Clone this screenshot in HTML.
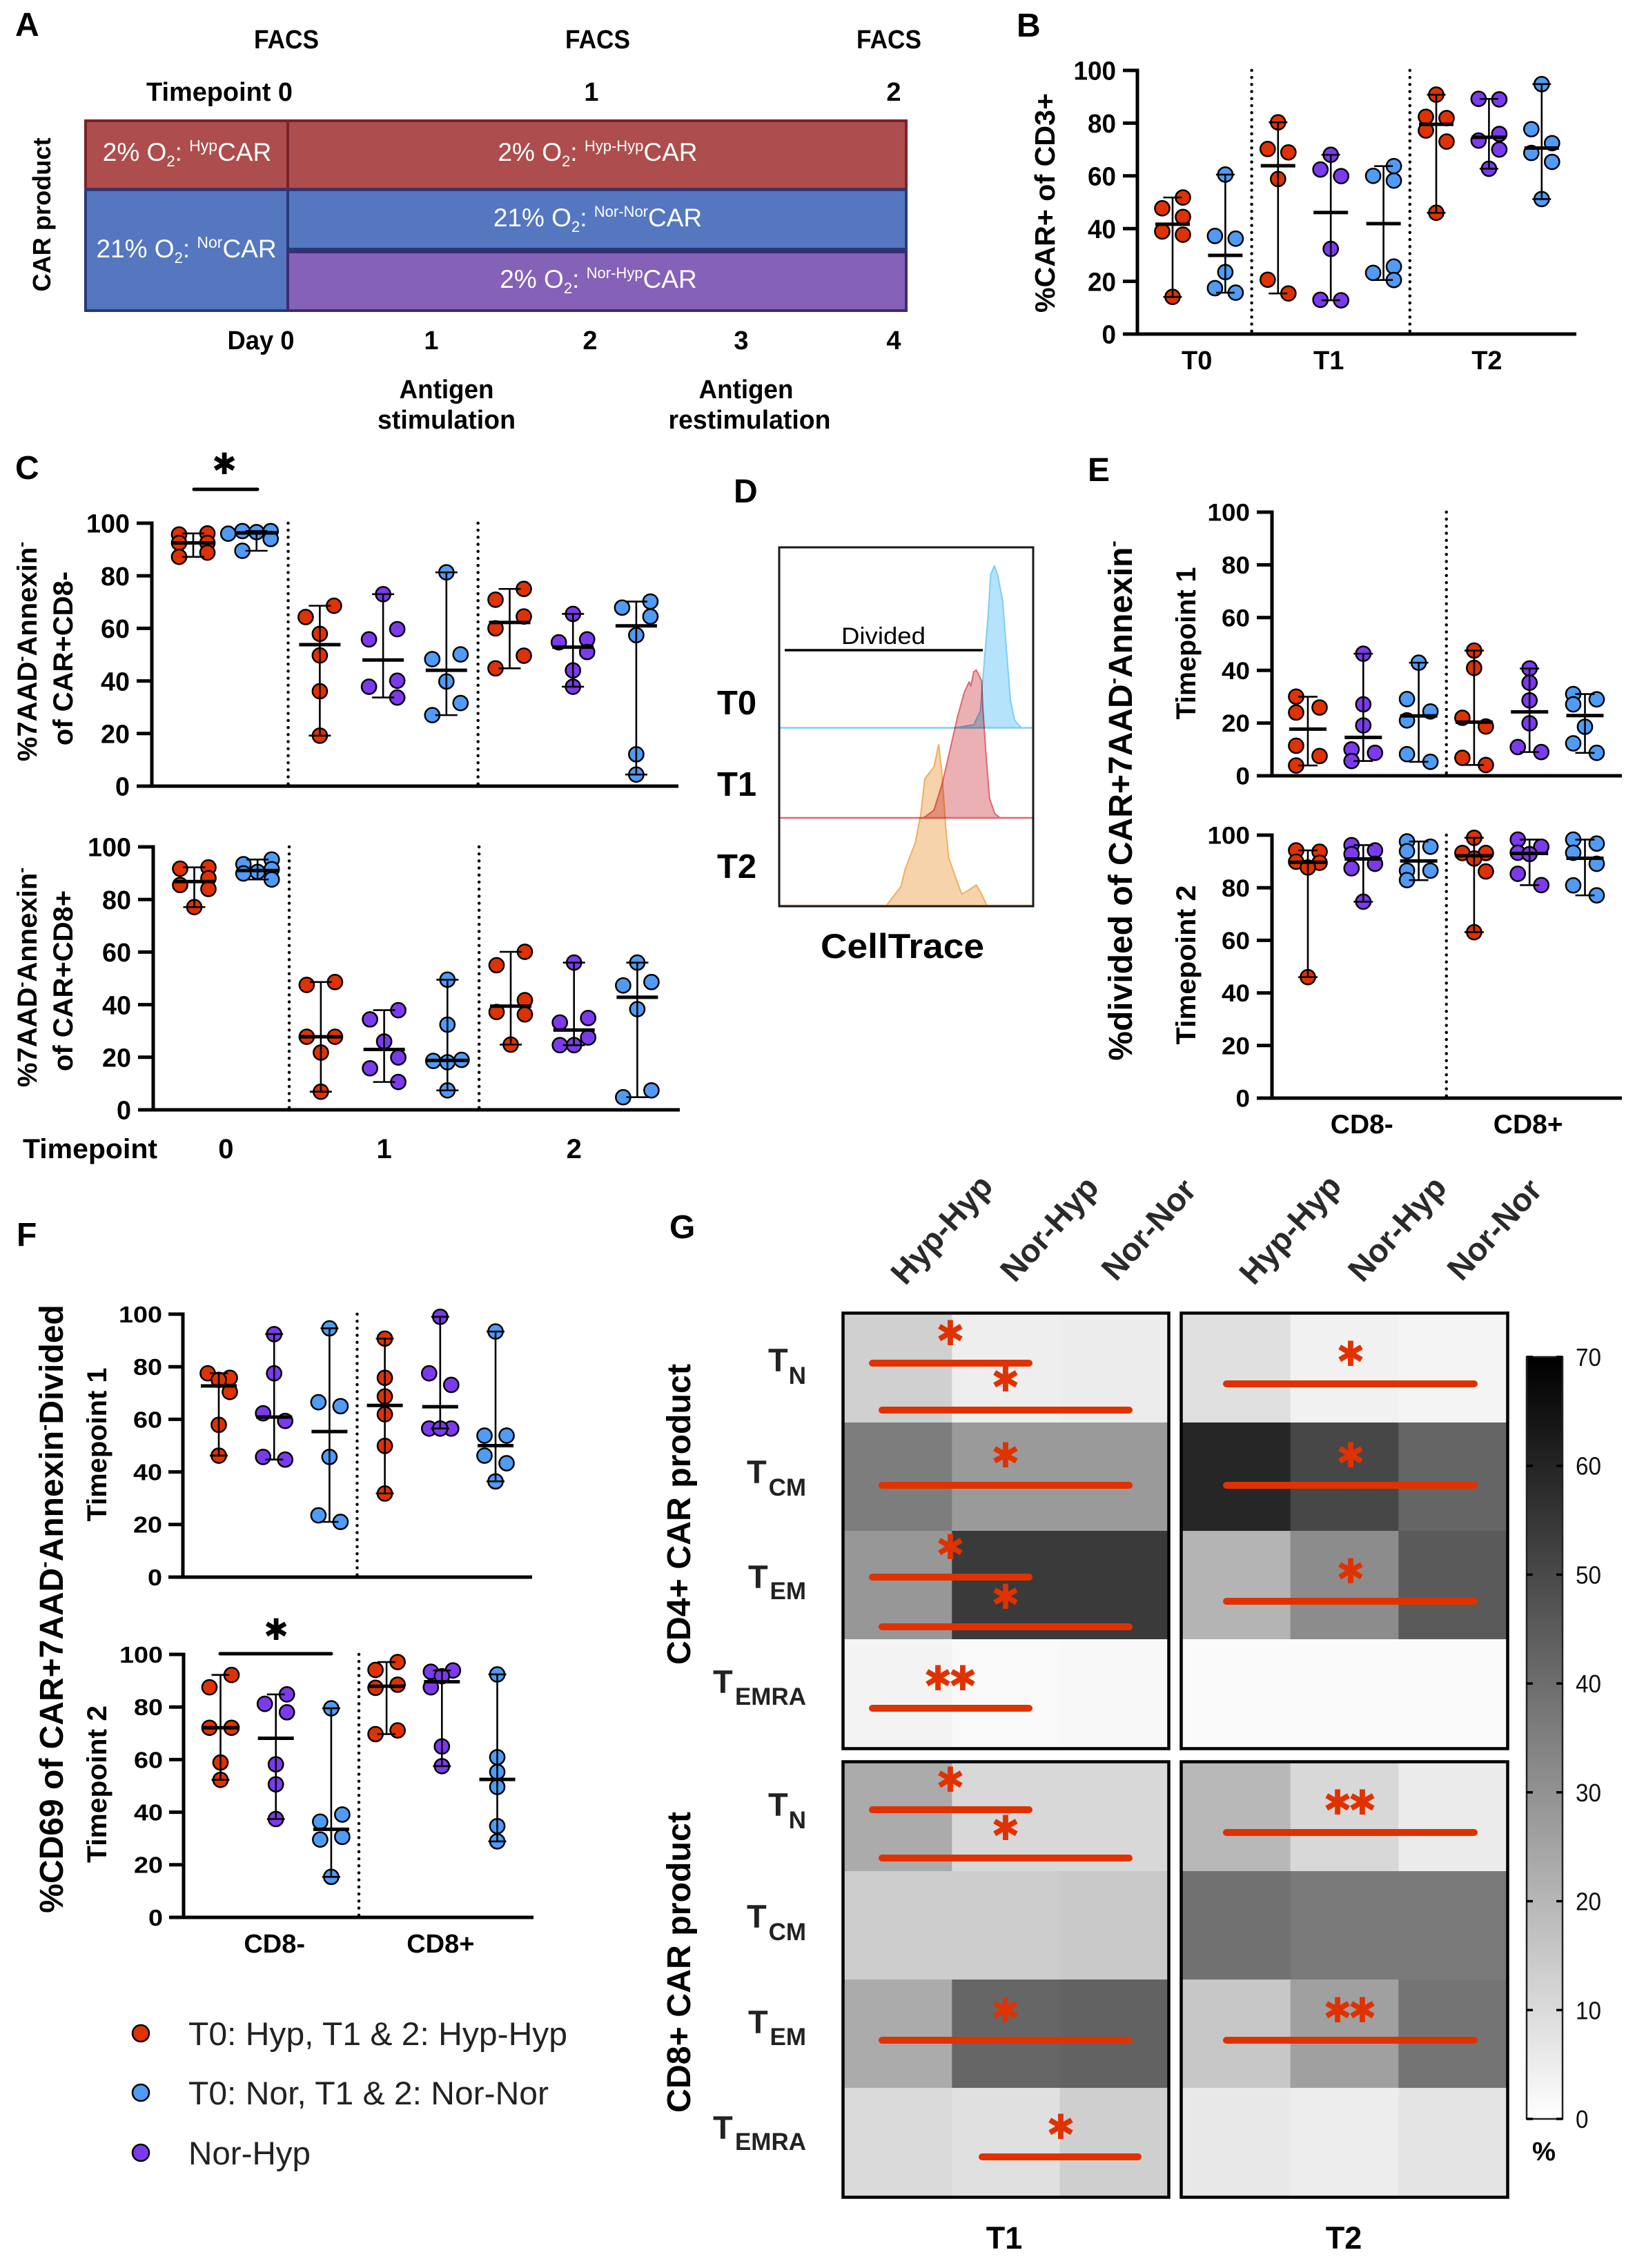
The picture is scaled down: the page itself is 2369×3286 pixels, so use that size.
<!DOCTYPE html>
<html lang="en">
<head>
<meta charset="utf-8">
<title>CAR T cell hypoxia figure</title>
<style>
html,body{margin:0;padding:0;background:#fff;}
svg{display:block;}
text{font-family:"Liberation Sans",sans-serif;fill:#000;}
.b{font-weight:700;}
.m{text-anchor:middle;}
.letter{font-weight:700;font-size:48px;}
.a{font-weight:700;font-size:38px;text-anchor:middle;}
.inbar{font-size:37px;fill:#fff;text-anchor:middle;}
.inbar tspan{fill:#fff;}
.title{font-weight:700;text-anchor:middle;}
.star{font-family:"DejaVu Sans",sans-serif;font-size:50px;fill:#e03200;text-anchor:middle;dominant-baseline:central;}
.stars{letter-spacing:-6px;}
.kstar{font-family:"DejaVu Sans",sans-serif;font-size:43px;fill:#000;text-anchor:middle;dominant-baseline:central;}
.rowT{font-weight:700;font-size:47px;fill:#222;}
.rowS{font-weight:700;font-size:35px;fill:#222;text-anchor:end;}
.col{font-weight:700;font-size:47px;fill:#2a2a2a;text-anchor:middle;dominant-baseline:central;}
.leg{font-size:47px;fill:#222;}
.cbl{font-size:36px;fill:#111;}
</style>
</head>
<body>
<svg id="figure" xmlns="http://www.w3.org/2000/svg" width="2369" height="3286" viewBox="0 0 2369 3286">
<rect x="0" y="0" width="2369" height="3286" fill="#fff"/>

<!-- Panel letters -->
<text class="letter" x="22" y="52">A</text>
<text class="letter" x="1473" y="53">B</text>
<text class="letter" x="22" y="694">C</text>
<text class="letter" x="1063" y="728">D</text>
<text class="letter" x="1576" y="697">E</text>
<text class="letter" x="24" y="1805">F</text>
<text class="letter" x="970" y="1794">G</text>

<!-- Panel A -->
<g>
<text class="a" x="415" y="70" textLength="94" lengthAdjust="spacingAndGlyphs">FACS</text>
<text class="a" x="866" y="70" textLength="94" lengthAdjust="spacingAndGlyphs">FACS</text>
<text class="a" x="1288" y="70" textLength="94" lengthAdjust="spacingAndGlyphs">FACS</text>
<text class="a" x="318" y="146" textLength="212" lengthAdjust="spacingAndGlyphs">Timepoint 0</text>
<text class="a" x="857" y="146">1</text>
<text class="a" x="1295" y="146">2</text>
<rect x="124" y="175" width="293" height="99" fill="#ae4d4d" stroke="#7b2228" stroke-width="4"/>
<rect x="417" y="175" width="896" height="99" fill="#ae4d4d" stroke="#7b2228" stroke-width="4"/>
<rect x="124" y="275" width="293" height="175" fill="#5577bf" stroke="#27397c" stroke-width="4"/>
<rect x="417" y="275" width="896" height="86" fill="#5577bf" stroke="#27397c" stroke-width="4"/>
<rect x="417" y="365" width="896" height="85" fill="#8561b8" stroke="#3c2b70" stroke-width="4"/>
<text class="inbar" x="271" y="233">2% O<tspan font-size="22" dy="8">2</tspan><tspan dy="-8">: </tspan><tspan font-size="23" dy="-14">Hyp</tspan><tspan dy="14">CAR</tspan></text>
<text class="inbar" x="866" y="233">2% O<tspan font-size="22" dy="8">2</tspan><tspan dy="-8">: </tspan><tspan font-size="22" dy="-14">Hyp-Hyp</tspan><tspan dy="14">CAR</tspan></text>
<text class="inbar" x="866" y="328">21% O<tspan font-size="22" dy="8">2</tspan><tspan dy="-8">: </tspan><tspan font-size="22" dy="-14">Nor-Nor</tspan><tspan dy="14">CAR</tspan></text>
<text class="inbar" x="867" y="417">2% O<tspan font-size="22" dy="8">2</tspan><tspan dy="-8">: </tspan><tspan font-size="22" dy="-14">Nor-Hyp</tspan><tspan dy="14">CAR</tspan></text>
<text class="inbar" x="270" y="373">21% O<tspan font-size="22" dy="8">2</tspan><tspan dy="-8">: </tspan><tspan font-size="23" dy="-14">Nor</tspan><tspan dy="14">CAR</tspan></text>
<text class="title" font-size="36" textLength="223" lengthAdjust="spacingAndGlyphs" transform="translate(73,311) rotate(-90)">CAR product</text>
<text class="a" x="378" y="506" textLength="97" lengthAdjust="spacingAndGlyphs">Day 0</text>
<text class="a" x="625" y="506">1</text>
<text class="a" x="855" y="506">2</text>
<text class="a" x="1074" y="506">3</text>
<text class="a" x="1295" y="506">4</text>
<text class="a" x="647" y="577" textLength="137" lengthAdjust="spacingAndGlyphs">Antigen</text>
<text class="a" x="647" y="621" textLength="200" lengthAdjust="spacingAndGlyphs">stimulation</text>
<text class="a" x="1081" y="577" textLength="137" lengthAdjust="spacingAndGlyphs">Antigen</text>
<text class="a" x="1086" y="621" textLength="235" lengthAdjust="spacingAndGlyphs">restimulation</text>
</g>

<!-- Axis titles -->
<text class="title" font-size="41" textLength="318" lengthAdjust="spacingAndGlyphs" transform="translate(1528,294) rotate(-90)">%CAR+ of CD3+</text>

<text class="title" font-size="40" transform="translate(53,944) rotate(-90)">%7AAD<tspan font-size="24" dy="-14">-</tspan><tspan dy="14">Annexin</tspan><tspan font-size="24" dy="-14">-</tspan></text>
<text class="title" font-size="40" transform="translate(105,954) rotate(-90)">of CAR+CD8-</text>
<text class="title" font-size="40" transform="translate(53,1416) rotate(-90)">%7AAD<tspan font-size="24" dy="-14">-</tspan><tspan dy="14">Annexin</tspan><tspan font-size="24" dy="-14">-</tspan></text>
<text class="title" font-size="40" transform="translate(105,1421) rotate(-90)">of CAR+CD8+</text>
<text class="b" x="33" y="1678" font-size="40" textLength="195" lengthAdjust="spacingAndGlyphs">Timepoint</text>
<text class="kstar" x="325" y="673">✱</text>
<line x1="281" y1="709" x2="373" y2="709" stroke="#000" stroke-width="5" stroke-linecap="round"/>

<text class="title" font-size="48" transform="translate(1640,1160) rotate(-90)">%divided of CAR+7AAD<tspan font-size="28" dy="-18">-</tspan><tspan dy="18">Annexin</tspan><tspan font-size="28" dy="-18">-</tspan></text>
<text class="title" font-size="40" textLength="221" lengthAdjust="spacingAndGlyphs" transform="translate(1732,932) rotate(-90)">Timepoint 1</text>
<text class="title" font-size="40" textLength="231" lengthAdjust="spacingAndGlyphs" transform="translate(1732,1398) rotate(-90)">Timepoint 2</text>

<text class="title" font-size="48" transform="translate(91,2331) rotate(-90)">%CD69 of CAR+7AAD<tspan font-size="28" dy="-18">-</tspan><tspan dy="18">Annexin</tspan><tspan font-size="28" dy="-18">-</tspan><tspan dy="18">Divided</tspan></text>
<text class="title" font-size="40" textLength="223" lengthAdjust="spacingAndGlyphs" transform="translate(154,2093) rotate(-90)">Timepoint 1</text>
<text class="title" font-size="40" textLength="228" lengthAdjust="spacingAndGlyphs" transform="translate(154,2585) rotate(-90)">Timepoint 2</text>
<text class="kstar" x="400" y="2362">✱</text>
<line x1="319" y1="2396" x2="480" y2="2396" stroke="#000" stroke-width="5" stroke-linecap="round"/>

<!-- Legend -->
<g>
<circle cx="204" cy="2946" r="12" fill="#e03200" stroke="#000" stroke-width="2.5"/>
<text class="leg" x="273" y="2963" textLength="549" lengthAdjust="spacingAndGlyphs">T0: Hyp, T1 &amp; 2: Hyp-Hyp</text>
<circle cx="204" cy="3032" r="12" fill="#4f9bf5" stroke="#000" stroke-width="2.5"/>
<text class="leg" x="273" y="3049" textLength="522" lengthAdjust="spacingAndGlyphs">T0: Nor, T1 &amp; 2: Nor-Nor</text>
<circle cx="204" cy="3119" r="12" fill="#7c3aed" stroke="#000" stroke-width="2.5"/>
<text class="leg" x="273" y="3136" textLength="177" lengthAdjust="spacingAndGlyphs">Nor-Hyp</text>
</g>

<!-- Panel D static labels -->
<text class="b" x="1039" y="1035" font-size="49">T0</text>
<text class="b" x="1039" y="1153" font-size="49">T1</text>
<text class="b" x="1039" y="1272" font-size="49">T2</text>
<text class="b" x="1189" y="1388" font-size="50" textLength="237" lengthAdjust="spacingAndGlyphs">CellTrace</text>

<!-- Panel G static labels -->
<text class="title" font-size="48" textLength="436" lengthAdjust="spacingAndGlyphs" transform="translate(1000,2194) rotate(-90)">CD4+ CAR product</text>
<text class="title" font-size="48" textLength="436" lengthAdjust="spacingAndGlyphs" transform="translate(1000,2843) rotate(-90)">CD8+ CAR product</text>
<text class="col" transform="translate(1364,1781) rotate(-48)">Hyp-Hyp</text>
<text class="col" transform="translate(1520,1780) rotate(-48)">Nor-Hyp</text>
<text class="col" transform="translate(1664,1781) rotate(-48)">Nor-Nor</text>
<text class="col" transform="translate(1869,1781) rotate(-48)">Hyp-Hyp</text>
<text class="col" transform="translate(2024,1780) rotate(-48)">Nor-Hyp</text>
<text class="col" transform="translate(2165,1781) rotate(-48)">Nor-Nor</text>
<text class="rowT" x="1113" y="1987">T</text><text class="rowS" x="1168" y="2005">N</text>
<text class="rowT" x="1082" y="2149">T</text><text class="rowS" x="1168" y="2167">CM</text>
<text class="rowT" x="1084" y="2301">T</text><text class="rowS" x="1168" y="2317">EM</text>
<text class="rowT" x="1033" y="2453">T</text><text class="rowS" x="1168" y="2470">EMRA</text>
<text class="rowT" x="1113" y="2631">T</text><text class="rowS" x="1168" y="2649">N</text>
<text class="rowT" x="1082" y="2793">T</text><text class="rowS" x="1168" y="2811">CM</text>
<text class="rowT" x="1084" y="2946">T</text><text class="rowS" x="1168" y="2963">EM</text>
<text class="rowT" x="1033" y="3099">T</text><text class="rowS" x="1168" y="3115">EMRA</text>
<text class="b m" x="1455" y="3258" font-size="45" fill="#222">T1</text>
<text class="b m" x="1947" y="3258" font-size="45" fill="#222">T2</text>

<g id="heat-layer"></g>
<g id="annot-layer">
<g stroke="#e03200" stroke-width="10" stroke-linecap="round">
<line x1="1264" y1="1975" x2="1491" y2="1975"/>
<line x1="1278" y1="2043" x2="1636" y2="2043"/>
<line x1="1278" y1="2152" x2="1636" y2="2152"/>
<line x1="1264" y1="2285" x2="1491" y2="2285"/>
<line x1="1278" y1="2357" x2="1636" y2="2357"/>
<line x1="1264" y1="2475" x2="1491" y2="2475"/>
<line x1="1777" y1="2005" x2="2136" y2="2005"/>
<line x1="1777" y1="2152" x2="2136" y2="2152"/>
<line x1="1777" y1="2320" x2="2136" y2="2320"/>
<line x1="1264" y1="2622" x2="1491" y2="2622"/>
<line x1="1278" y1="2692" x2="1636" y2="2692"/>
<line x1="1278" y1="2956" x2="1636" y2="2956"/>
<line x1="1423" y1="3125" x2="1649" y2="3125"/>
<line x1="1777" y1="2655" x2="2136" y2="2655"/>
<line x1="1777" y1="2956" x2="2136" y2="2956"/>
</g>
<text class="star" x="1377" y="1932">✱</text>
<text class="star" x="1457" y="1999">✱</text>
<text class="star" x="1457" y="2109">✱</text>
<text class="star" x="1377" y="2242">✱</text>
<text class="star" x="1457" y="2314">✱</text>
<text class="star stars" x="1374" y="2432">✱✱</text>
<text class="star" x="1957" y="1962">✱</text>
<text class="star" x="1957" y="2109">✱</text>
<text class="star" x="1957" y="2277">✱</text>
<text class="star" x="1377" y="2579">✱</text>
<text class="star" x="1457" y="2649">✱</text>
<text class="star" x="1457" y="2913">✱</text>
<text class="star" x="1537" y="3082">✱</text>
<text class="star stars" x="1953" y="2612">✱✱</text>
<text class="star stars" x="1953" y="2913">✱✱</text>
</g>
</svg>

<script>
// ---------- shared axis data ----------
const yTicks = [0, 20, 40, 60, 80, 100];
const seriesColors = { hyp: '#e03200', nor: '#4f9bf5', mix: '#7c3aed' };

// ---------- Panel B ----------
const panelBGroups = ['hyp', 'nor', 'hyp', 'mix', 'nor', 'hyp', 'mix', 'nor'];
const panelBCategories = ['T0', 'T1', 'T2'];
const panelBCategorySpans = [[0, 1], [2, 4], [5, 7]];
const panelBValues = [
  [51.8, 47.7, 44.4, 38.9, 37.7, 14.1],
  [60.5, 37.2, 36.2, 23.5, 17.4, 15.7],
  [80.3, 70.2, 68.9, 58.8, 20.6, 15.4],
  [68, 62.4, 59.9, 32.3, 13, 12.8],
  [63.7, 60, 58.2, 25.6, 23.2, 20.5],
  [90.8, 82.4, 81.9, 77.2, 73, 46],
  [89.2, 89, 75.9, 73.4, 70, 62.7],
  [94.8, 77.7, 72.4, 68.7, 65.3, 51.2]
];

// ---------- Panel C ----------
const panelCGroups = ['hyp', 'nor', 'hyp', 'mix', 'nor', 'hyp', 'mix', 'nor'];
const panelCCategories = ['0', '1', '2'];
const panelCCategorySpans = [[0, 1], [2, 4], [5, 7]];
const panelCTopValues = [
  [96.1, 95.7, 92.5, 92.5, 88.8, 87.2],
  [97, 97, 96.6, 96, 94, 89.5],
  [68.6, 64.3, 57.9, 49.7, 36.1, 19.2],
  [73, 59.7, 55.8, 40.1, 37.8, 33.7],
  [81.3, 50.1, 48.3, 39.8, 31.6, 27],
  [75, 70.9, 64.5, 60, 49.6, 44.8],
  [65.5, 55.8, 54.7, 51, 44, 37.8],
  [70.2, 67.9, 64.5, 57.4, 12.1, 4.4]
];
const panelCBottomValues = [
  [92.2, 91.7, 88.1, 85.5, 84, 77.1],
  [95.2, 93.4, 91.5, 90.5, 89.9, 87.6],
  [48.6, 47.5, 27.8, 27.8, 21.8, 6.9],
  [37.9, 34.4, 26, 19.9, 15.8, 10.6],
  [49.5, 32.4, 19, 18.6, 18.1, 7.4],
  [60.1, 55, 41.7, 37.2, 36.3, 24.8],
  [56, 34.9, 33.2, 27.5, 24.6, 24.6],
  [56, 48.6, 47.3, 38.3, 7.4, 4.8]
];

// ---------- Panel E ----------
const panelEGroups = ['hyp', 'mix', 'nor', 'hyp', 'mix', 'nor'];
const panelECategories = ['CD8-', 'CD8+'];
const panelECategorySpans = [[0, 2], [3, 5]];
const panelETopValues = [
  [30, 25.9, 24, 11.4, 7.5, 3.9],
  [46.3, 27.1, 19.1, 10, 8.7, 5.6],
  [42.9, 29.1, 24.4, 21, 8.2, 5.3],
  [47.5, 40.9, 22, 18.7, 6.8, 4.1],
  [40.7, 35.3, 28.6, 19.9, 10.9, 9],
  [31, 29, 27.1, 18.6, 12.3, 8.7]
];
const panelEBottomValues = [
  [94.2, 93.7, 89.9, 89.5, 87.7, 46],
  [96.2, 94.2, 92.8, 89.1, 87.4, 74.7],
  [97.6, 95.6, 93.9, 86.5, 86.5, 82.9],
  [99, 93.2, 93.2, 91.1, 86.2, 63.1],
  [98.3, 95.6, 93.3, 92.8, 85.3, 81],
  [98.3, 96.8, 93.3, 89.1, 80.9, 77.1]
];

// ---------- Panel F ----------
const panelFGroups = ['hyp', 'mix', 'nor', 'hyp', 'mix', 'nor'];
const panelFCategories = ['CD8-', 'CD8+'];
const panelFCategorySpans = [[0, 2], [3, 5]];
const panelFTopValues = [
  [77.5, 75.8, 75, 70.4, 57.9, 46.2],
  [92.4, 77.5, 62.3, 59.4, 45.7, 44.7],
  [94.6, 66.5, 65, 45.7, 23.5, 21],
  [90.7, 75.8, 68.7, 61.9, 49.9, 31.8],
  [99, 77.5, 73.1, 56.5, 56.5, 56.5],
  [93.4, 53.8, 53.8, 46.2, 43.3, 36.4]
];
const panelFBottomValues = [
  [92.2, 87.5, 72.1, 72.1, 58.9, 52.3],
  [84.8, 81.2, 78, 58.2, 50.6, 37.4],
  [79.5, 39.1, 36.4, 30.6, 29.6, 15.4],
  [97.1, 94.1, 88.5, 87.3, 71.1, 69.7],
  [93.9, 93.4, 91.7, 87.5, 65, 57.5],
  [92.4, 60.9, 55.3, 49.6, 34.7, 28.9]
];

// ---------- Panel D histograms (channel on 0-100, normalised count on 0-100) ----------
const histT0Channel = [69.3, 76.6, 79.2, 80.2, 82.3, 83.3, 84.7, 86.1, 88, 89.6, 91.1, 92.7, 95.3];
const histT0Count = [0, 1.9, 10.4, 30.1, 70.3, 94.7, 100, 94, 78.4, 45.8, 16.7, 4.7, 0];
const histT1Channel = [56.8, 60.9, 64.1, 67.2, 70.3, 72.9, 74.8, 75.5, 76.6, 77.6, 79.7, 80.2, 81.3, 82.8, 84.9, 87];
const histT1Count = [0, 4.7, 20.6, 41.7, 62.9, 77.7, 84, 81.4, 90.3, 91.3, 84.7, 67.8, 41.9, 12.1, 2.5, 0];
const histT2Channel = [42.2, 47.9, 49.5, 53.6, 55.7, 57.3, 60.9, 62.8, 64.1, 65.6, 66.7, 69.3, 71.9, 74.5, 77.6, 79.2, 81.8];
const histT2Count = [0, 11.7, 22, 38.9, 55.9, 78.2, 85.6, 99.4, 81.4, 47.7, 29.7, 18, 7, 9.5, 12.7, 8.5, 0];

// ---------- Panel G heatmaps (% by subset row, condition column) ----------
const heatRows = ['TN', 'TCM', 'TEM', 'TEMRA'];
const heatCols = ['Hyp-Hyp', 'Nor-Hyp', 'Nor-Nor'];
const heatCd4T1 = [[12.9, 4.7, 5.2], [35.7, 27.7, 27.7], [28.5, 54.1, 54.1], [3.3, 1.6, 1.9]];
const heatCd4T2 = [[8.5, 3.8, 3], [59.6, 50.5, 42.3], [20.6, 31.6, 45.3], [1.4, 1.4, 1.4]];
const heatCd8T1 = [[23.1, 10.7, 10.7], [13.7, 13.7, 14.8], [23.1, 42, 43.1], [10.2, 8.5, 13.2]];
const heatCd8T2 = [[19.5, 10.7, 5.5], [39, 36.5, 36.5], [15.4, 26.1, 38.2], [6.3, 4.9, 7.4]];
const colorbarTicks = [0, 10, 20, 30, 40, 50, 60, 70];

// ---------- helpers ----------
const SVGNS = 'http://www.w3.org/2000/svg';
const root = document.getElementById('figure');

function add(parent, tag, attrs) {
  const el = document.createElementNS(SVGNS, tag);
  for (const k in attrs) el.setAttribute(k, attrs[k]);
  parent.appendChild(el);
  return el;
}

function median(vals) {
  const s = vals.slice().sort((a, b) => a - b);
  const n = s.length;
  return n % 2 ? s[(n - 1) / 2] : (s[n / 2 - 1] + s[n / 2]) / 2;
}

// Places points of one group left/right of its centre the way a column scatter swarm does.
function swarmOffsets(vals, yFn, slot, dia, evenSide, oddSide) {
  const order = vals.map((v, i) => i).sort((a, b) => vals[b] - vals[a]);
  const clusters = [];
  order.forEach((idx, k) => {
    if (k > 0 && Math.abs(yFn(vals[idx]) - yFn(vals[order[k - 1]])) < dia * 0.9) {
      clusters[clusters.length - 1].push(idx);
    } else {
      clusters.push([idx]);
    }
  });
  const placed = [];
  const offsets = vals.map(() => 0);
  clusters.forEach(cluster => {
    const n = cluster.length;
    cluster.forEach((idx, i) => {
      const first = n % 2 ? oddSide : evenSide;
      const side = i % 2 ? -first : first;
      const options = n === 1 ? [0] : [side, -side, 0, 2 * side, -2 * side, 3 * side, -3 * side];
      const py = yFn(vals[idx]);
      let chosen = options[0];
      for (const s of options) {
        const px = s * slot;
        const hit = placed.some(p => Math.hypot(p.x - px, p.y - py) < dia * 0.5);
        if (!hit) { chosen = s; break; }
      }
      offsets[idx] = chosen * slot;
      placed.push({ x: chosen * slot, y: py });
    });
  });
  return offsets;
}

function drawScatter(cfg) {
  const g = add(root, 'g', {});
  
  
  const yScale = v => cfg.y0 + (cfg.y100 - cfg.y0) * v / 100;
  const xScale = i => cfg.x0 + i * cfg.step;

  // group separators
  cfg.separators.forEach(afterGroup => {
    const sx = (xScale(afterGroup) + xScale(afterGroup + 1)) / 2;
    const sep = add(g, 'line', { x1: sx, x2: sx, y1: cfg.y100, y2: cfg.y0, stroke: '#000', 'stroke-width': 4.5, 'stroke-linecap': 'round', 'stroke-dasharray': '0.01 10.2' });
    
    
  });

  // dots
  cfg.values.forEach((vals, gi) => {
    const offs = swarmOffsets(vals, yScale, cfg.slot, 22.5, cfg.evenSide, cfg.oddSide);
    vals.forEach((v, k) => {
      const c = add(g, 'circle', { cx: xScale(gi) + offs[k], cy: yScale(v), r: 10.6, fill: seriesColors[cfg.groups[gi]], stroke: '#000', 'stroke-width': 2.5 });
      
      
    });
  });

  // median and range whiskers
  cfg.values.forEach((vals, gi) => {
    const cx = xScale(gi);
    const hi = Math.max.apply(null, vals);
    const lo = Math.min.apply(null, vals);
    const wh = add(g, 'line', { x1: cx, x2: cx, y1: yScale(hi), y2: yScale(lo), stroke: '#000', 'stroke-width': 2.6 });
    
    
    [hi, lo].forEach(v => {
      const cap = add(g, 'line', { x1: cx - cfg.capHalf, x2: cx + cfg.capHalf, y1: yScale(v), y2: yScale(v), stroke: '#000', 'stroke-width': 2.6 });
      
      
    });
    const m = yScale(median(vals));
    const med = add(g, 'line', { x1: cx - cfg.medHalf, x2: cx + cfg.medHalf, y1: m, y2: m, stroke: '#000', 'stroke-width': 5 });
    
    
  });

  // axes
  const ya = add(g, 'line', { x1: cfg.axisX, x2: cfg.axisX, y1: cfg.y100 - 2.5, y2: cfg.y0 + 2.5, stroke: '#000', 'stroke-width': 5 });
  
  
  const xa = add(g, 'line', { x1: cfg.tickLeft, x2: cfg.xEnd, y1: cfg.y0, y2: cfg.y0, stroke: '#000', 'stroke-width': 5 });
  
  

  yTicks.forEach(t => {
    const ty = yScale(t);
    const tick = add(g, 'line', { x1: cfg.tickLeft, x2: cfg.axisX, y1: ty, y2: ty, stroke: '#000', 'stroke-width': 5 });
    
    
    const label = String(t);
    const tl = add(g, 'text', { x: cfg.tickRight, y: ty + cfg.tickFont * 0.36, 'text-anchor': 'end', 'font-weight': 700, 'font-size': cfg.tickFont, textLength: label.length * cfg.digitW, lengthAdjust: 'spacingAndGlyphs' });
    
    
    tl.textContent = label;
  });

  // category labels
  if (cfg.categories) {
    cfg.categories.forEach((cat, ci) => {
      const span = cfg.categorySpans[ci];
      const lx = (xScale(span[0]) + xScale(span[1])) / 2 + (cfg.catShift || 0);
      const ct = add(g, 'text', { x: lx, y: cfg.catY, 'text-anchor': 'middle', 'font-weight': 700, 'font-size': cfg.catFont });
      
      
      ct.textContent = cat;
    });
  }
}

drawScatter({ name: 'panel-b-chart', groups: panelBGroups, values: panelBValues, x0: 1699, step: 76.4, slot: 15, y0: 484, y100: 102, axisX: 1648, tickLeft: 1627, tickRight: 1617, tickFont: 38, digitW: 20.5, xEnd: 2284, separators: [1, 4], capHalf: 13.5, medHalf: 25, evenSide: -1, oddSide: 1, categories: panelBCategories, categorySpans: panelBCategorySpans, catY: 535, catFont: 38, catShift: -3 });
drawScatter({ name: 'panel-c-top-chart', groups: panelCGroups, values: panelCTopValues, x0: 280, step: 91.7, slot: 20.5, y0: 1139, y100: 758, axisX: 220, tickLeft: 198, tickRight: 188, tickFont: 38, digitW: 21, xEnd: 983, separators: [1, 4], capHalf: 16, medHalf: 30, evenSide: 1, oddSide: 1 });
drawScatter({ name: 'panel-c-bottom-chart', groups: panelCGroups, values: panelCBottomValues, x0: 281.5, step: 91.7, slot: 20.5, y0: 1608, y100: 1227, axisX: 222, tickLeft: 200, tickRight: 190, tickFont: 38, digitW: 21, xEnd: 985, separators: [1, 4], capHalf: 16, medHalf: 30, evenSide: 1, oddSide: 1, categories: panelCCategories, categorySpans: panelCCategorySpans, catY: 1678, catFont: 40 });
drawScatter({ name: 'panel-e-top-chart', groups: panelEGroups, values: panelETopValues, x0: 1895, step: 80.3, slot: 17, y0: 1124, y100: 742, axisX: 1843, tickLeft: 1821, tickRight: 1811, tickFont: 35, digitW: 20.5, xEnd: 2350, separators: [2], capHalf: 14, medHalf: 27, evenSide: -1, oddSide: -1 });
drawScatter({ name: 'panel-e-bottom-chart', groups: panelEGroups, values: panelEBottomValues, x0: 1895, step: 80.3, slot: 17, y0: 1591, y100: 1210, axisX: 1843, tickLeft: 1821, tickRight: 1811, tickFont: 35, digitW: 20.5, xEnd: 2350, separators: [2], capHalf: 14, medHalf: 27, evenSide: -1, oddSide: -1, categories: panelECategories, categorySpans: panelECategorySpans, catY: 1642, catFont: 39, catShift: -2 });
drawScatter({ name: 'panel-f-top-chart', groups: panelFGroups, values: panelFTopValues, x0: 317, step: 80.2, slot: 16, y0: 2285, y100: 1904, axisX: 265, tickLeft: 244, tickRight: 235, tickFont: 33, digitW: 21, xEnd: 771, separators: [2], capHalf: 13, medHalf: 26, evenSide: -1, oddSide: 1 });
drawScatter({ name: 'panel-f-bottom-chart', groups: panelFGroups, values: panelFBottomValues, x0: 319.5, step: 80.2, slot: 16, y0: 2778, y100: 2397, axisX: 266, tickLeft: 245, tickRight: 236, tickFont: 33, digitW: 21, xEnd: 773, separators: [2], capHalf: 13, medHalf: 26, evenSide: 1, oddSide: 1, categories: panelFCategories, categorySpans: panelFCategorySpans, catY: 2829, catFont: 38, catShift: -2 });

// ---------- Panel D drawing ----------
(function drawHistograms() {
  const g = add(root, 'g', {});
  
  
  const boxL = 1130, boxR = 1496, boxT = 794, boxB = 1312;
  const chanX = c => boxL - 1 + c * 3.68;
  const countY = (base, n) => base - n * 2.346;
  const tracks = [
    { name: 'histogram-t0', chan: histT0Channel, count: histT0Count, base: 1054.5, fill: '#b5e3fb', line: '#7dcdf5' },
    { name: 'histogram-t1', chan: histT1Channel, count: histT1Count, base: 1185, fill: '#eab0b3', line: '#e0666d' },
    { name: 'histogram-t2', chan: histT2Channel, count: histT2Count, base: 1312, fill: '#f6d3aa', line: '#eeb060' }
  ];
  tracks.forEach(t => {
    const pts = t.chan.map((c, i) => chanX(c).toFixed(1) + ',' + countY(t.base, t.count[i]).toFixed(1));
    const area = add(g, 'polygon', { points: pts.join(' '), fill: t.fill, stroke: t.line, 'stroke-width': 2, 'stroke-linejoin': 'round', style: 'mix-blend-mode:multiply' });
    
    
    const base = add(g, 'line', { x1: boxL, x2: boxR, y1: t.base, y2: t.base, stroke: t.line, 'stroke-width': 2.5 });
    
    
  });
  const frame = add(g, 'rect', { x: boxL - 1, y: boxT - 1, width: boxR - boxL + 2, height: boxB - boxT + 2, fill: 'none', stroke: '#1a1a1a', 'stroke-width': 3 });
  
  
  const gate = add(g, 'line', { x1: 1137, x2: 1424, y1: 942, y2: 942, stroke: '#000', 'stroke-width': 3.5 });
  
  
  const gateText = add(g, 'text', { x: 1219, y: 933, 'font-size': 34, textLength: 122, lengthAdjust: 'spacingAndGlyphs' });
  
  
  gateText.textContent = 'Divided';
})();

// ---------- Panel G drawing ----------
(function drawHeatmaps() {
  const layer = document.getElementById('heat-layer');
  const gray = v => {
    const level = Math.round(255 * (1 - v / 70));
    return 'rgb(' + level + ',' + level + ',' + level + ')';
  };
  const blocks = [
    { name: 'heatmap-cd4-t1', data: heatCd4T1, l: 1223, r: 1692, t: 1904, b: 2532 },
    { name: 'heatmap-cd4-t2', data: heatCd4T2, l: 1713, r: 2183, t: 1904, b: 2532 },
    { name: 'heatmap-cd8-t1', data: heatCd8T1, l: 1223, r: 1692, t: 2554, b: 3182 },
    { name: 'heatmap-cd8-t2', data: heatCd8T2, l: 1713, r: 2183, t: 2554, b: 3182 }
  ];
  blocks.forEach(bk => {
    const g = add(layer, 'g', {});
    
    
    const cw = (bk.r - bk.l) / heatCols.length;
    const ch = (bk.b - bk.t) / heatRows.length;
    bk.data.forEach((row, ri) => {
      row.forEach((v, ci) => {
        const cell = add(g, 'rect', { x: bk.l + ci * cw, y: bk.t + ri * ch, width: cw + 0.5, height: ch + 0.5, fill: gray(v) });
        
        
      });
    });
    const frame = add(g, 'rect', { x: bk.l - 1.5, y: bk.t - 1.5, width: bk.r - bk.l + 3, height: bk.b - bk.t + 3, fill: 'none', stroke: '#000', 'stroke-width': 4.5 });
    
    
  });

  // colour bar
  const cbar = add(layer, 'g', {});
  
  
  const defs = add(cbar, 'defs', {});
  const grad = add(defs, 'linearGradient', { id: 'cbGrad', x1: 0, y1: 1, x2: 0, y2: 0 });
  add(grad, 'stop', { offset: '0', 'stop-color': '#fff' });
  add(grad, 'stop', { offset: '1', 'stop-color': '#000' });
  const cbTop = 1966, cbBottom = 3070, cbL = 2212, cbR = 2264;
  const cbY = v => cbBottom + (cbTop - cbBottom) * v / 70;
  const bar = add(cbar, 'rect', { x: cbL, y: cbTop, width: cbR - cbL, height: cbBottom - cbTop, fill: 'url(#cbGrad)', stroke: '#222', 'stroke-width': 2.5 });
  
  
  colorbarTicks.forEach(t => {
    const y = cbY(t);
    const t1 = add(cbar, 'line', { x1: cbL, x2: cbL + 9, y1: y, y2: y, stroke: '#000', 'stroke-width': 3.5 });
    
    
    const t2 = add(cbar, 'line', { x1: cbR - 9, x2: cbR, y1: y, y2: y, stroke: '#000', 'stroke-width': 3.5 });
    
    
    const label = String(t);
    const lb = add(cbar, 'text', { class: 'cbl', x: 2283, y: y + 13, textLength: label.length * 18.5, lengthAdjust: 'spacingAndGlyphs' });
    
    
    lb.textContent = label;
  });
  const unit = add(cbar, 'text', { x: 2237, y: 3130, 'text-anchor': 'middle', 'font-weight': 700, 'font-size': 38, textLength: 34, lengthAdjust: 'spacingAndGlyphs' });
  
  
  unit.textContent = '%';
})();

// keep significance annotations above the heatmap cells
root.appendChild(document.getElementById('annot-layer'));
</script>
</body>
</html>
